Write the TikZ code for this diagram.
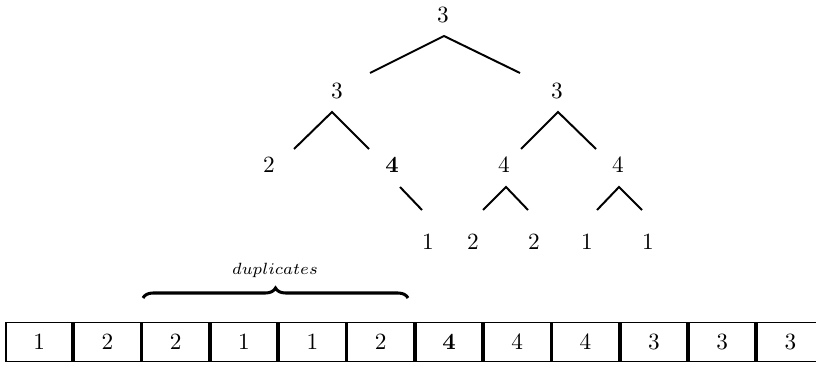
\documentclass[tikz,border=0pt]{standalone}
\usetikzlibrary{decorations.pathreplacing}
\begin{document}
\begin{tikzpicture}[x=0.43pt,y=-0.43pt,
  lbl/.style={inner sep=0pt},
  edge/.style={line width=0.85pt},
  cell/.style={draw,line width=0.8pt,minimum width=28.6pt,minimum height=16.8pt,inner sep=0pt},
  bracestyle/.style={decorate,decoration={brace,amplitude=4.3pt},line width=1.3pt}]
\useasboundingbox (0,0) rectangle (816,365);
% tree labels
\node[lbl] (r)   at (443,15) {3};
\node[lbl] (a)   at (337,91) {3};
\node[lbl] (b)   at (557,91) {3};
\node[lbl] (a1)  at (269,165) {2};
\node[lbl] (a2)  at (392,165) {$\mathbf{4}$};
\node[lbl] (b1)  at (504,165) {4};
\node[lbl] (b2)  at (618,165) {4};
\node[lbl] (c1)  at (428,242) {1};
\node[lbl] (c2)  at (473,242) {2};
\node[lbl] (c3)  at (534,242) {2};
\node[lbl] (c4)  at (587,242) {1};
\node[lbl] (c5)  at (648,242) {1};
% edge end points
\coordinate (rt) at (444,36);
\coordinate (rl) at (370,73);
\coordinate (rr) at (520,73);
\coordinate (at) at (332,112);
\coordinate (al) at (294,149);
\coordinate (ar) at (369,149);
\coordinate (bt) at (558,112);
\coordinate (bl) at (521,149);
\coordinate (br) at (596,149);
\coordinate (a2t) at (400,187);
\coordinate (a2r) at (422,210);
\coordinate (b1t) at (506,187);
\coordinate (b1l) at (483,210);
\coordinate (b1r) at (528,210);
\coordinate (b2t) at (619,187);
\coordinate (b2l) at (597,210);
\coordinate (b2r) at (642,210);
\draw[edge] (rl) -- (rt) -- (rr);
\draw[edge] (al) -- (at) -- (ar);
\draw[edge] (bl) -- (bt) -- (br);
\draw[edge] (a2t) -- (a2r);
\draw[edge] (b1l) -- (b1t) -- (b1r);
\draw[edge] (b2l) -- (b2t) -- (b2r);
% brace
\coordinate (bs) at (143,298);
\coordinate (be) at (408,298);
\draw[bracestyle] (bs) -- (be);
\node[lbl] (dup) at (275,270) {$\scriptstyle duplicates$};
% array
\foreach \v [count=\i from 0] in {1,2,2,1,1,2,{$\mathbf{4}$},4,4,3,3,3}{
  \node[cell] (cell\i) at ({39.15+68.3*\i},342) {\v};
}
\end{tikzpicture}
\end{document}
